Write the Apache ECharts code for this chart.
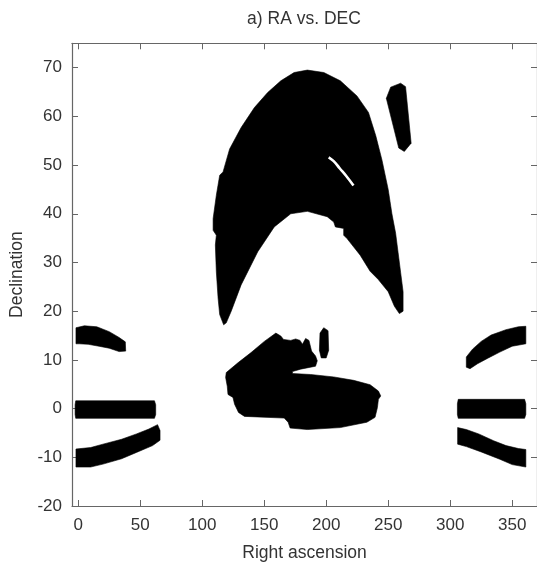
<!DOCTYPE html>
<html>
<head>
<meta charset="utf-8">
<script src="https://cdn.jsdelivr.net/npm/echarts@6/dist/echarts.min.js"></script>
<style>html,body{margin:0;padding:0;background:#fff}#c{width:537px;height:567px}</style>
</head>
<body>
<div id="c"></div>
<script>
// Tick labels
const raTicks = [0, 50, 100, 150, 200, 250, 300, 350];
const decTicks = [-20, -10, 0, 10, 20, 30, 40, 50, 60, 70];

// Survey footprint regions: [RA, DEC] outline vertices
const stripeLeftNorth = [[-1.8,16.6],[5,17],[15,16.8],[25,15.8],[33,14.6],[38,13.7],[38.3,11.8],[33,11.7],[25,12.4],[16.8,12.8],[8,13.2],[0.8,13.3],[-1.8,13.3]];
const stripeLeftEq = [[-2,1.6],[61.5,1.6],[62.5,0.8],[62.5,-1.2],[61.5,-2.0],[-2,-2.0],[-2.5,-1.2],[-2.5,0.8]];
const stripeLeftSouth = [[-1.8,-8.3],[10,-8.0],[20,-7.3],[35,-6.3],[47,-5.2],[57,-4.2],[64,-3.3],[66,-4.5],[66,-6.5],[60,-7.6],[47,-9.0],[35,-10.3],[20,-11.4],[10,-12.0],[-1.8,-12.0]];
const stripeRightNorth = [[313,10.6],[318,12.2],[325,13.8],[333,15.1],[345,16.2],[355,16.8],[361,16.9],[361,13.3],[350,12.8],[340,11.6],[330,10.3],[322,9.2],[316,8.2],[313,8.5]];
const stripeRightEq = [[306.5,1.9],[360,1.9],[361,1],[361,-1.2],[360,-2],[306.5,-2],[305.8,-1.2],[305.8,1]];
const stripeRightSouth = [[306,-3.9],[313,-4.3],[323,-5.2],[335,-6.6],[345,-7.6],[355,-8.2],[361,-8.4],[361,-12],[350,-11.5],[340,-10.4],[325,-8.9],[313,-7.8],[306,-7.3]];
const northArch = [[117.3,17.2],[114.1,19.3],[112.8,22.7],[111.4,28.1],[110.6,33.6],[111.4,35.6],[108.8,36.6],[108.8,39.0],[111.4,43.8],[114.1,47.9],[116.8,48.6],[122.1,53.3],[131.4,57.7],[142.1,61.8],[152.8,64.9],[163.4,67.3],[174.1,69.0],[184.8,69.5],[198.1,69.0],[211.4,67.3],[224.8,64.2],[234.1,60.8],[240,56],[245,51],[250,45],[253,40],[256,36],[258,32],[260,28],[262,24],[262,20],[259,19.5],[255,21],[250,24],[242,26.5],[235.4,28.2],[227.4,31.5],[216.8,34.9],[214.1,35.6],[214.1,37.0],[207.4,37.3],[206.1,38.3],[200.8,39.4],[184.8,40.5],[171.4,40.0],[158.1,37.3],[144.8,32.2],[131.4,25.4],[123.4,20.0],[119.4,17.6]];
const northPatch = [[248.5,63.7],[252,66],[260,66.8],[264,66.1],[268.5,54.5],[263,52.8],[258.5,53.5]];
const equatorBlob = [[119.4,7.4],[128.8,9.4],[139.4,11.5],[150.1,13.8],[159.4,15.5],[163.4,14.9],[165.6,14.2],[171.4,14.0],[175.4,14.3],[178.9,14.0],[180.8,13.2],[183.4,14.4],[186.1,14.0],[188.2,11.8],[191.4,10.8],[192.8,9.8],[191.4,8.7],[179.4,8.1],[172.8,7.6],[172.8,7.2],[187.4,7.0],[206.1,6.5],[222.1,5.8],[235.4,4.9],[242.1,3.6],[244.0,2.6],[242.1,1.9],[241.3,0.2],[239.4,-1.8],[232.8,-2.8],[211.4,-3.9],[184.8,-4.3],[170.9,-4.0],[169.3,-2.8],[166.1,-1.95],[134.1,-1.6],[129.3,-0.8],[126.1,0.9],[124.8,2.3],[120.8,2.9],[120.2,4.6],[118.9,6.4]];
const equatorSmall = [[195,15.5],[198,16.6],[201.5,16],[202,12],[200,10.4],[196,10.4],[194.5,12]];
// thin uncovered sliver inside the northern arch
const archGap = [[202,51.6],[206,50.8],[211,49.3],[216,47.8],[222,45.8]];

const regions = [stripeLeftNorth, stripeLeftEq, stripeLeftSouth, stripeRightNorth, stripeRightEq, stripeRightSouth, northArch, northPatch, equatorBlob, equatorSmall];

const FONT = '"Liberation Sans", Arial, sans-serif';
const TXT = '#333';
const AX = '#666';

const chart = echarts.init(document.getElementById('c'), null, {renderer: 'canvas'});

const xBase = {
  type: 'value', min: -5, max: 370,
  splitLine: {show: false},
  axisLine: {show: true, onZero: false, lineStyle: {color: AX, width: 1.2}},
  axisTick: {show: true, inside: true, length: 6, customValues: raTicks, lineStyle: {color: AX}},
};
const yBase = {
  type: 'value', min: -20, max: 75,
  splitLine: {show: false},
  axisLine: {show: true, onZero: false, lineStyle: {color: AX, width: 1.2}},
  axisTick: {show: true, inside: true, length: 6, customValues: decTicks, lineStyle: {color: AX}},
};

chart.setOption({
  animation: false,
  backgroundColor: '#fff',
  grid: {left: 69.5, top: 43.3, width: 468.75, height: 466, containLabel: false},
  graphic: [{
    type: 'text', x: 304, y: 10,
    style: {text: 'a) RA vs. DEC', font: '17.5px ' + FONT, fill: TXT, textAlign: 'center', textVerticalAlign: 'top'}
  }],
  xAxis: [
    Object.assign({}, xBase, {
      position: 'bottom',
      name: 'Right ascension', nameLocation: 'middle', nameGap: 38,
      nameTextStyle: {fontFamily: FONT, fontSize: 17.5, color: TXT},
      axisLabel: {show: true, customValues: raTicks, margin: 11, fontFamily: FONT, fontSize: 17, color: TXT}
    }),
    Object.assign({}, xBase, {position: 'top', axisLabel: {show: false}})
  ],
  yAxis: [
    Object.assign({}, yBase, {
      position: 'left',
      name: 'Declination', nameLocation: 'middle', nameGap: 46,
      nameTextStyle: {fontFamily: FONT, fontSize: 17.5, color: TXT},
      axisLabel: {show: true, customValues: decTicks, margin: 10, fontFamily: FONT, fontSize: 17, color: TXT}
    }),
    Object.assign({}, yBase, {position: 'right', axisLabel: {show: false}})
  ],
  series: [
    {
      type: 'custom',
      xAxisIndex: 0, yAxisIndex: 0,
      clip: true,
      data: regions.map(function (r, i) { return [r[0][0], r[0][1], i]; }),
      renderItem: function (params, api) {
        const poly = regions[params.dataIndex];
        return {
          type: 'polygon',
          shape: {points: poly.map(function (p) { return api.coord(p); })},
          style: {fill: '#000', stroke: '#000', lineWidth: 0.6}
        };
      }
    },
    {
      type: 'line',
      xAxisIndex: 0, yAxisIndex: 0,
      data: archGap, smooth: true, symbol: 'none', z: 5,
      lineStyle: {color: '#fff', width: 2.6}
    }
  ]
});
</script>
</body>
</html>
